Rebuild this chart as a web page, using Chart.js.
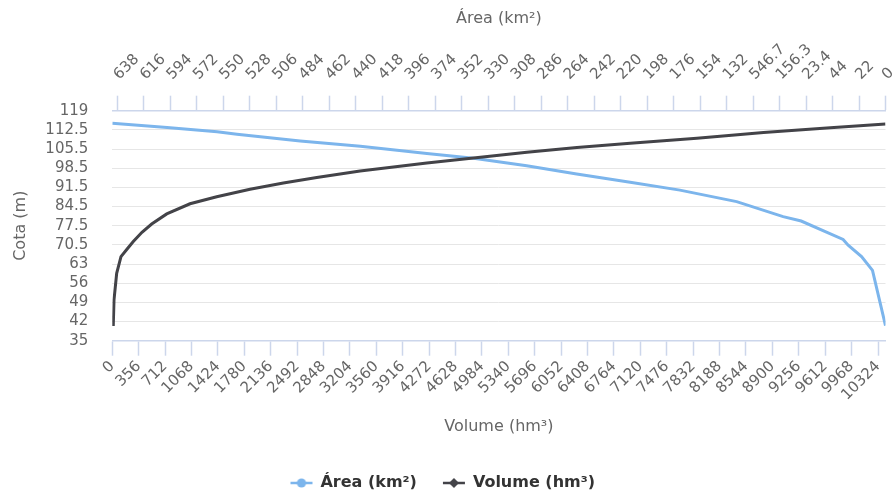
<!DOCTYPE html>
<html><head><meta charset="utf-8">
<script src="https://cdn.jsdelivr.net/npm/chart.js@4.4.1/dist/chart.umd.min.js"></script>
<style>html,body{margin:0;padding:0;background:#fff}canvas{display:block}</style>
</head><body>
<canvas id="c" width="896" height="495"></canvas>
<script>
// ---- data ----
const seriesNames = ['Área (km²)', 'Volume (hm³)'];
const axisTitleTop = 'Área (km²)';
const axisTitleBottom = 'Volume (hm³)';
const axisTitleLeft = 'Cota (m)';

const volumeValues = [13, 23, 59, 117, 200, 283, 400, 531, 734, 1048, 1408, 1857, 2306, 2757, 3341, 4241, 4869, 5590, 6264, 6983, 7882, 8781, 9681, 10425];
const volumeCota   = [40.4, 49.9, 59.6, 65.7, 68.5, 71.2, 74.6, 77.6, 81.3, 85.0, 87.6, 90.3, 92.6, 94.6, 97.0, 99.9, 101.7, 103.8, 105.6, 107.1, 108.9, 111.0, 112.8, 114.1];

const areaValues = [642, 596.5, 555, 538.5, 486, 436, 380.8, 342, 297.9, 256.4, 212, 170.7, 123.6, 85, 70, 35.2, 31, 19.9, 10.8, 0];
const areaCota   = [114.4, 112.9, 111.3, 110.4, 107.9, 106.0, 103.4, 101.6, 98.9, 95.9, 92.9, 90.0, 85.8, 80.3, 78.7, 72.0, 69.9, 65.7, 60.7, 40.5];

const yTickValues = [35, 42, 49, 56, 63, 70, 77, 84, 91, 98, 105, 112, 119];
const yTickLabels = ['35', '42', '49', '56', '63', '70.5', '77.5', '84.5', '91.5', '98.5', '105.5', '112.5', '119'];

const areaTickValues = [638, 616, 594, 572, 550, 528, 506, 484, 462, 440, 418, 396, 374, 352, 330, 308, 286, 264, 242, 220, 198, 176, 154, 132, 110, 88, 66, 44, 22, 0];
const areaTickLabels = ['638', '616', '594', '572', '550', '528', '506', '484', '462', '440', '418', '396', '374', '352', '330', '308', '286', '264', '242', '220', '198', '176', '154', '132', '546.7', '156.3', '23.4', '44', '22', '0'];

const volumeTickValues = [0, 356, 712, 1068, 1424, 1780, 2136, 2492, 2848, 3204, 3560, 3916, 4272, 4628, 4984, 5340, 5696, 6052, 6408, 6764, 7120, 7476, 7832, 8188, 8544, 8900, 9256, 9612, 9968, 10324];
const volumeTickLabels = ['0', '356', '712', '1068', '1424', '1780', '2136', '2492', '2848', '3204', '3560', '3916', '4272', '4628', '4984', '5340', '5696', '6052', '6408', '6764', '7120', '7476', '7832', '8188', '8544', '8900', '9256', '9612', '9968', '10324'];

const areaMax = 642;
const volumeMax = 10425;

// ---- styling ----
const BLUE = '#7cb5ec';
const DARK = '#434348';
const AXIS = '#ccd6eb';
const GRID = '#e6e6e6';
const LABEL = '#666666';

Chart.defaults.font.family = "'DejaVu Sans', sans-serif";

function legendIcon(color, shape) {
  const c = document.createElement('canvas');
  c.width = 24; c.height = 12;
  const g = c.getContext('2d');
  g.strokeStyle = color; g.lineWidth = 2.5;
  g.beginPath(); g.moveTo(1, 6); g.lineTo(23, 6); g.stroke();
  g.fillStyle = color;
  g.beginPath();
  if (shape === 'circle') {
    g.arc(12, 6, 4.6, 0, Math.PI * 2);
  } else {
    g.moveTo(12, 1); g.lineTo(17, 6); g.lineTo(12, 11); g.lineTo(7, 6); g.closePath();
  }
  g.fill();
  return c;
}
const iconArea = legendIcon(BLUE, 'circle');
const iconVol = legendIcon(DARK, 'diamond');

const areaData = areaValues.map((v, i) => ({x: v, y: areaCota[i]}));
const volumeData = volumeValues.map((v, i) => ({x: v, y: volumeCota[i]}));

function noSidePadding(s) { s.paddingLeft = 0; s.paddingRight = 0; }

new Chart(document.getElementById('c'), {
  type: 'scatter',
  data: {
    datasets: [
      {label: seriesNames[0], data: areaData, xAxisID: 'x2', yAxisID: 'y', showLine: true,
       borderColor: BLUE, backgroundColor: BLUE, borderWidth: 3, pointRadius: 0, tension: 0, order: 1},
      {label: seriesNames[1], data: volumeData, xAxisID: 'x', yAxisID: 'y', showLine: true,
       borderColor: DARK, backgroundColor: DARK, borderWidth: 3, pointRadius: 0, tension: 0, order: 0}
    ]
  },
  options: {
    responsive: false,
    animation: false,
    events: [],
    layout: {padding: {left: 0, right: 10.5, top: 0, bottom: 0}},
    plugins: {
      tooltip: {enabled: false},
      legend: {
        position: 'bottom',
        maxHeight: 46,
        labels: {
          padding: 26,
          usePointStyle: true,
          pointStyleWidth: 22,
          color: '#333333',
          font: {size: 16, weight: 'bold'},
          generateLabels: () => [
            {text: seriesNames[0], pointStyle: iconArea, fillStyle: BLUE, strokeStyle: BLUE, lineWidth: 0, fontColor: '#333333', hidden: false, datasetIndex: 0},
            {text: seriesNames[1], pointStyle: iconVol, fillStyle: DARK, strokeStyle: DARK, lineWidth: 0, fontColor: '#333333', hidden: false, datasetIndex: 1}
          ]
        }
      }
    },
    scales: {
      y: {
        type: 'linear', position: 'left', min: 35, max: 119,
        afterFit: s => { s.width = 112.3; s.paddingTop = 0; s.paddingBottom = 0; },
        afterBuildTicks: s => { s.ticks = yTickValues.map(v => ({value: v})); },
        ticks: {autoSkip: false, padding: 24, color: LABEL, font: {size: 15},
                callback: (v, i) => yTickLabels[i]},
        grid: {color: GRID, lineWidth: 1, drawTicks: false},
        border: {display: false},
        title: {display: true, text: axisTitleLeft, color: LABEL, font: {size: 16}, padding: {top: 11, bottom: 0}}
      },
      x2: {
        type: 'linear', position: 'top', reverse: true, min: 0, max: areaMax,
        afterFit: s => { s.height = 110.7; noSidePadding(s); },
        afterBuildTicks: s => { s.ticks = areaTickValues.map(v => ({value: v})); },
        ticks: {autoSkip: false, minRotation: 45, maxRotation: 45, padding: 12, labelOffset: 12, color: LABEL, font: {size: 15},
                callback: (v, i) => areaTickLabels[i]},
        grid: {drawOnChartArea: false, drawTicks: true, tickLength: 15, tickColor: AXIS, tickWidth: 1.5},
        border: {display: true, color: AXIS, width: 1.5},
        title: {display: true, text: axisTitleTop, color: LABEL, font: {size: 16}, padding: {top: 9, bottom: 0}}
      },
      x: {
        type: 'linear', position: 'bottom', min: 0, max: volumeMax,
        afterFit: s => { s.height = 108.3; noSidePadding(s); },
        afterBuildTicks: s => { s.ticks = volumeTickValues.map(v => ({value: v})); },
        ticks: {autoSkip: false, minRotation: 45, maxRotation: 45, padding: 2, color: LABEL, font: {size: 15},
                callback: (v, i) => volumeTickLabels[i]},
        grid: {drawOnChartArea: false, drawTicks: true, tickLength: 15, tickColor: AXIS, tickWidth: 1.5},
        border: {display: true, color: AXIS, width: 1.5},
        title: {display: true, text: axisTitleBottom, color: LABEL, font: {size: 16}, padding: {top: 0, bottom: 12.4}}
      }
    }
  }
});
</script>
</body></html>
